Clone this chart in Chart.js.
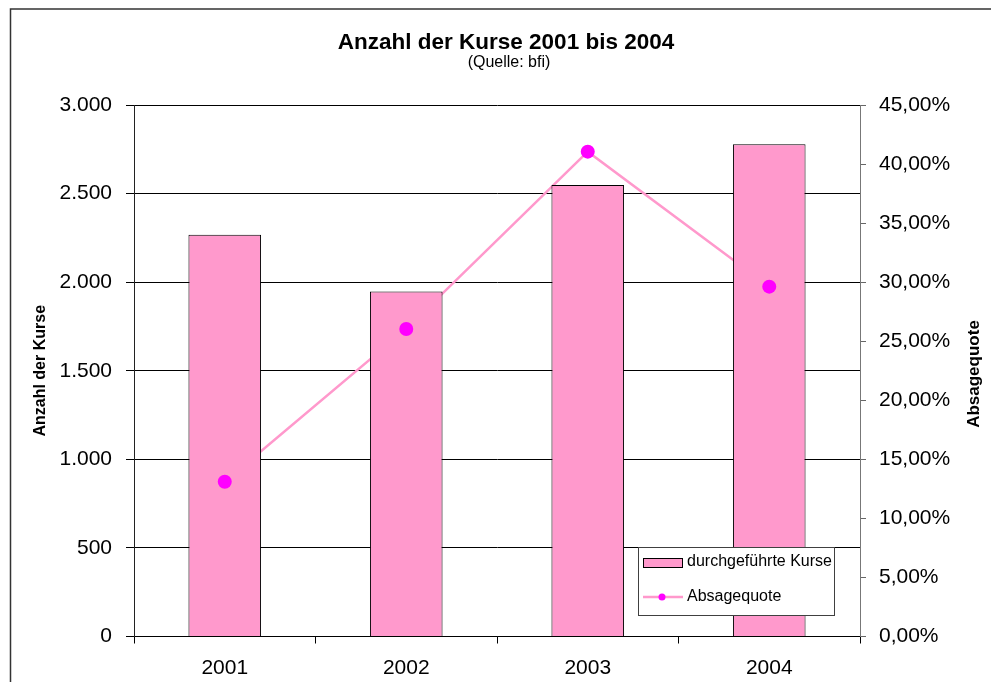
<!DOCTYPE html>
<html lang="de">
<head>
<meta charset="utf-8">
<title>Anzahl der Kurse 2001 bis 2004</title>
<script src="https://cdn.jsdelivr.net/npm/chart.js@4.4.1/dist/chart.umd.min.js"></script>
<style>
  html, body { margin: 0; padding: 0; background: #fff; }
  #wrap { width: 991px; height: 682px; position: relative; }
</style>
</head>
<body>
<div id="wrap"><canvas id="kurseChart"></canvas></div>
<script>
// ─── Data ─────────────────────────────────────────────

const YEARS        = ['2001', '2002', '2003', '2004'];
const KURSE        = [2268, 1948, 2548, 2778];       // durchgeführte Kurse
const ABSAGEQUOTE  = [13.1, 26.04, 41.05, 29.62];    // in %
const KURSE_TICKS  = { min: 0, max: 3000, step: 500 };
const QUOTE_TICKS  = { min: 0, max: 45, step: 5 };

const TITLE    = 'Anzahl der Kurse 2001 bis 2004';
const SUBTITLE = '(Quelle: bfi)';

const FONT = "'Liberation Sans', Arial, Helvetica, sans-serif";
const PINK = '#FF99CC';
const MAGENTA = '#FF00FF';

// ─── Helpers ──────────────────────────────────────────

function fmtThousands(v) {
  return String(v).replace(/\B(?=(\d{3})+(?!\d))/g, '.');
}
function fmtPct(v) {
  return v.toFixed(2).replace('.', ',') + '%';
}

// ─── Plugins: frame, titles, right axis title, legend ─

const framePlugin = {
  id: 'frame',
  beforeDraw(chart) {
    const { ctx, width, height } = chart;
    ctx.save();
    ctx.fillStyle = '#fff';
    ctx.fillRect(0, 0, width, height);
    ctx.strokeStyle = '#333';
    ctx.lineWidth = 1.5;
    ctx.beginPath();
    ctx.moveTo(10.5, height + 2);
    ctx.lineTo(10.5, 9);
    ctx.lineTo(width + 2, 9);
    ctx.stroke();
    ctx.restore();
  },
};

const textPlugin = {
  id: 'texts',
  afterDraw(chart) {
    const { ctx } = chart;
    ctx.save();
    ctx.fillStyle = '#000';
    ctx.textAlign = 'center';
    ctx.textBaseline = 'middle';
    ctx.font = 'bold 22.5px ' + FONT;
    ctx.fillText(TITLE, 506, 43);
    ctx.font = '16px ' + FONT;
    ctx.fillText(SUBTITLE, 509, 63);
    // right axis title, reads bottom to top
    ctx.translate(974, 374);
    ctx.rotate(-Math.PI / 2);
    ctx.font = 'bold 17px ' + FONT;
    ctx.fillText('Absagequote', 0, 0);
    ctx.restore();
  },
};

const legendBoxPlugin = {
  id: 'legendBox',
  afterDraw(chart) {
    const { ctx } = chart;
    ctx.save();
    // box
    ctx.fillStyle = '#fff';
    ctx.fillRect(638.5, 547.5, 196, 68);
    ctx.strokeStyle = '#404040';
    ctx.lineWidth = 1;
    ctx.strokeRect(638.5, 547.5, 196, 68);
    // bar swatch
    ctx.fillStyle = PINK;
    ctx.fillRect(643.5, 558.5, 39, 9);
    ctx.strokeStyle = '#000';
    ctx.strokeRect(643.5, 558.5, 39, 9);
    // line swatch
    ctx.strokeStyle = PINK;
    ctx.lineWidth = 2.5;
    ctx.beginPath();
    ctx.moveTo(643, 597);
    ctx.lineTo(683, 597);
    ctx.stroke();
    ctx.fillStyle = MAGENTA;
    ctx.beginPath();
    ctx.arc(662, 597, 3.5, 0, Math.PI * 2);
    ctx.fill();
    // labels
    ctx.fillStyle = '#000';
    ctx.font = '16px ' + FONT;
    ctx.textAlign = 'left';
    ctx.textBaseline = 'middle';
    ctx.fillText('durchgeführte Kurse', 687, 562);
    ctx.fillText('Absagequote', 687, 597);
    ctx.restore();
  },
};

// ─── Chart ────────────────────────────────────────────

const ctx = document.getElementById('kurseChart').getContext('2d');

new Chart(ctx, {
  type: 'bar',
  data: {
    labels: YEARS,
    datasets: [
      {
        type: 'line',
        label: 'Absagequote (Linie)',
        data: ABSAGEQUOTE,
        yAxisID: 'y1',
        borderColor: PINK,
        borderWidth: 2.5,
        pointRadius: 0,
        tension: 0,
        order: 3,
      },
      {
        type: 'bar',
        label: 'durchgeführte Kurse',
        data: KURSE,
        yAxisID: 'y',
        backgroundColor: PINK,
        borderColor: '#000',
        borderWidth: 1,
        barPercentage: 0.4,
        categoryPercentage: 1,
        order: 2,
      },
      {
        type: 'line',
        label: 'Absagequote',
        data: ABSAGEQUOTE,
        yAxisID: 'y1',
        showLine: false,
        pointRadius: 7,
        pointBackgroundColor: MAGENTA,
        pointBorderColor: MAGENTA,
        pointBorderWidth: 0,
        order: 1,
      },
    ],
  },
  options: {
    responsive: true,
    maintainAspectRatio: false,
    animation: false,
    layout: { padding: { top: 105, left: 0, right: 0, bottom: 0 } },
    scales: {
      x: {
        offset: true,
        grid: { offset: true, drawOnChartArea: false, tickLength: 7, color: '#000' },
        border: { color: '#000' },
        ticks: { color: '#000', padding: 12, font: { family: FONT, size: 21 } },
        afterFit: s => { s.height = 45.5; },
      },
      y: {
        position: 'left',
        min: KURSE_TICKS.min,
        max: KURSE_TICKS.max,
        grid: { color: '#000', lineWidth: 1, tickLength: 8 },
        border: { color: '#222' },
        ticks: {
          stepSize: KURSE_TICKS.step,
          color: '#000',
          padding: 14,
          font: { family: FONT, size: 21 },
          callback: v => fmtThousands(v),
        },
        title: {
          display: true,
          text: 'Anzahl der Kurse',
          color: '#000',
          font: { family: FONT, size: 16, weight: 'bold' },
          padding: { top: 31, bottom: 0 },
        },
        afterFit: s => { s.width = 134; },
      },
      y1: {
        position: 'right',
        min: QUOTE_TICKS.min,
        max: QUOTE_TICKS.max,
        grid: { drawOnChartArea: false, tickLength: 6, color: '#666' },
        border: { color: '#777' },
        ticks: {
          stepSize: QUOTE_TICKS.step,
          color: '#000',
          padding: 13,
          font: { family: FONT, size: 21 },
          callback: v => fmtPct(v),
        },
        afterFit: s => { s.width = 131; },
      },
    },
    plugins: {
      legend: { display: false },
      tooltip: { enabled: false },
      title: { display: false },
    },
  },
  plugins: [framePlugin, textPlugin, legendBoxPlugin],
});
</script>
</body>
</html>
